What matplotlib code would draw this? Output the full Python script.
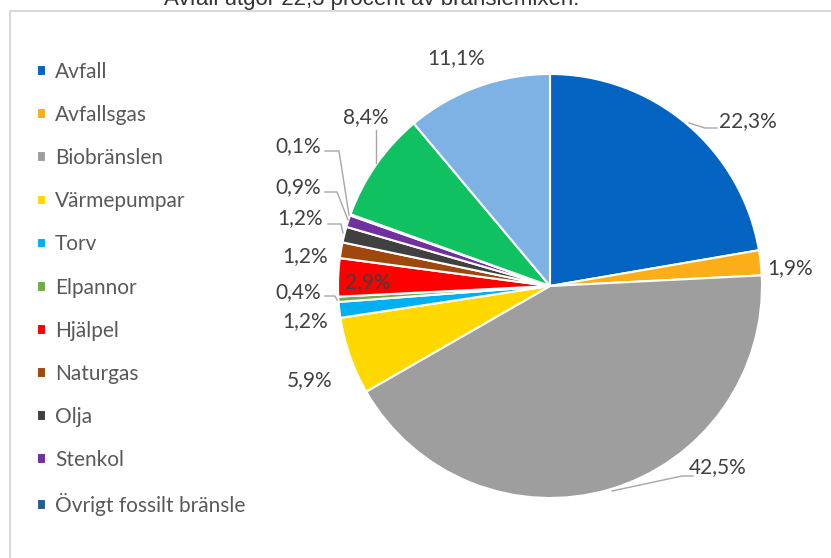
import matplotlib.pyplot as plt

# bränslemix, andelar i procent (medurs från klockan 12)
names = ['Avfall', 'Avfallsgas', 'Biobränslen', 'Värmepumpar', 'Torv', 'Elpannor',
         'Hjälpel', 'Naturgas', 'Olja', 'Stenkol', 'Övrigt fossilt bränsle']
values = [22.3, 1.9, 42.5, 5.9, 1.2, 0.4, 2.9, 1.2, 1.2, 0.9, 0.1, 8.4, 11.1]
colors = ['#0563C1', '#FBAE17', '#9E9E9E', '#FFD800', '#00B0F0', '#70AD47',
          '#FF0000', '#9E480E', '#404040', '#7030A0', '#255E91', '#0FC160', '#7EB2E4']

# label positions in pixels (x, y from top) and leader lines
label_pos = [(748, 121), (790, 268), (718, 467), (310, 380), (305, 321), (298, 292),
             (368, 282), (305, 256), (300, 218), (298, 187), (298, 146), (366, 117), (456, 58)]
leaders = {
    0: [(717, 128), (705, 128), (689, 123)],
    2: [(693, 476), (682, 476), (612, 491)],
    5: [(325, 296), (335, 296), (337, 300)],
    8: [(328, 224), (341, 224), (343, 233)],
    9: [(325, 192), (337, 192), (348, 220)],
    10: [(325, 151), (339, 151), (349, 215)],
    11: [(376, 130), (376, 163)],
}

W, H = 831, 558
fig = plt.figure(figsize=(W / 100, H / 100), dpi=100)
ax = fig.add_axes([0, 0, 1, 1])

wedges, _ = ax.pie(values, colors=colors, startangle=90, counterclock=False,
                   center=(550, H - 286), radius=212,
                   wedgeprops=dict(edgecolor='white', linewidth=1.5))
ax.set_xlim(0, W)
ax.set_ylim(0, H)
ax.axis('off')

lab_font = 'Lato'
for i, (v, (x, y)) in enumerate(zip(values, label_pos)):
    txt = f'{v:.1f}'.replace('.', ',') + '%'
    ax.text(x, H - y, txt, ha='center', va='center', fontsize=15,
            color='#404040', family=lab_font)

for i, pts in leaders.items():
    ax.plot([p[0] for p in pts], [H - p[1] for p in pts], color='#A6A6A6', lw=1)

# ram
ax.plot([10, 10], [-5, H - 11], color='#D9D9D9', lw=1.5, clip_on=False)
ax.plot([10, W + 5], [H - 11, H - 11], color='#D9D9D9', lw=1.5, clip_on=False)

# rubrik (avklippt upptill)
ax.text(372, H - 5, 'Avfall utgör 22,3 procent av bränslemixen.', ha='center',
        va='baseline', fontsize=16, color='#333333', family='Liberation Sans')

leg = fig.legend(wedges[:len(names)], names, loc='upper left',
                 bbox_to_anchor=(37 / W, 1 - 62 / H), frameon=False,
                 borderpad=0, borderaxespad=0, handlelength=0.42, handleheight=0.42,
                 handletextpad=0.45, labelspacing=1.11,
                 prop={'family': lab_font, 'size': 15})
for t in leg.get_texts():
    t.set_color('#595959')

fig.savefig('out.png', dpi=100)
